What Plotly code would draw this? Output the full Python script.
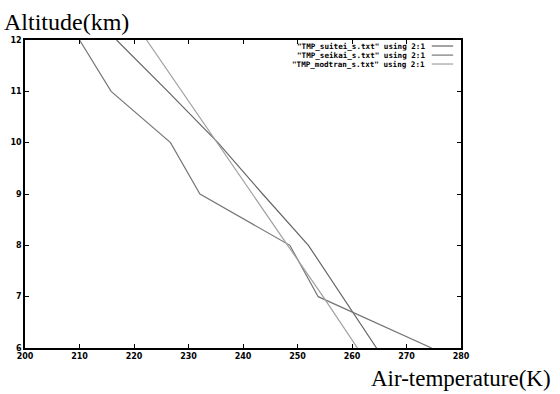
import plotly.graph_objects as go

# Altitude levels (km)
altitude = [6, 7, 8, 9, 10, 11, 12]
# Air temperature (K) for each file
tmp_suitei = [264.5, 258.3, 252.0, 243.6, 235.4, 226.2, 216.8]
tmp_seikai = [274.6, 253.8, 248.6, 232.1, 226.7, 215.8, 210.0]
tmp_modtran = [261.0, 254.7, 248.2, 241.7, 235.3, 228.8, 222.3]

series_names = ['"TMP_suitei_s.txt" using 2:1',
                '"TMP_seikai_s.txt" using 2:1',
                '"TMP_modtran_s.txt" using 2:1']
series_values = [tmp_suitei, tmp_seikai, tmp_modtran]
series_colors = ["#666666", "#767676", "#a0a0a0"]

x_ticks = [200, 210, 220, 230, 240, 250, 260, 270, 280]
y_ticks = [6, 7, 8, 9, 10, 11, 12]

fig = go.Figure()
for name, vals, col in zip(series_names, series_values, series_colors):
    fig.add_trace(go.Scatter(x=vals, y=altitude, mode="lines", name=name,
                             line=dict(color=col, width=1.2), showlegend=False,
                             hoverinfo="skip"))

# gnuplot-style key: text right-aligned, sample line to the right
key_y = [0.9805, 0.951, 0.922]
annotations = []
shapes = []
for name, col, ky in zip(series_names, series_colors, key_y):
    annotations.append(dict(x=0.922, y=ky, xref="paper", yref="paper", text=name,
                            showarrow=False, xanchor="right", yanchor="middle",
                            font=dict(family="DejaVu Sans Mono", size=7.6, color="black", weight="bold")))
    shapes.append(dict(type="line", xref="paper", yref="paper", x0=0.933, x1=0.982,
                       y0=ky, y1=ky, line=dict(color=col, width=1.2)))

annotations.append(dict(x=-0.052, y=1.058, xref="paper", yref="paper", text="Altitude(km)",
                        showarrow=False, xanchor="left", yanchor="middle",
                        font=dict(family="Liberation Serif", size=24, color="black")))
annotations.append(dict(x=1.21, y=-0.098, xref="paper", yref="paper", text="Air-temperature(K)",
                        showarrow=False, xanchor="right", yanchor="middle",
                        font=dict(family="Liberation Serif", size=23, color="black")))

axis_common = dict(showline=True, linecolor="black", linewidth=1.6, mirror="allticks",
                   ticks="inside", ticklen=4, tickwidth=1.2, tickcolor="black",
                   showgrid=False, zeroline=False, automargin=False,
                   tickfont=dict(family="DejaVu Sans", size=8, color="black", weight="bold"))

fig.update_layout(
    width=560, height=394,
    margin=dict(l=25, r=99, t=40, b=46),
    paper_bgcolor="white", plot_bgcolor="white",
    xaxis=dict(range=[200, 280], tickvals=x_ticks, ticktext=[str(v) for v in x_ticks], **axis_common),
    yaxis=dict(range=[6, 12], tickvals=y_ticks, ticktext=[str(v) for v in y_ticks], **axis_common),
    annotations=annotations, shapes=shapes,
)

fig.write_html("out.html", config={"displayModeBar": False},
               post_script="document.body.style.margin='0px';")
